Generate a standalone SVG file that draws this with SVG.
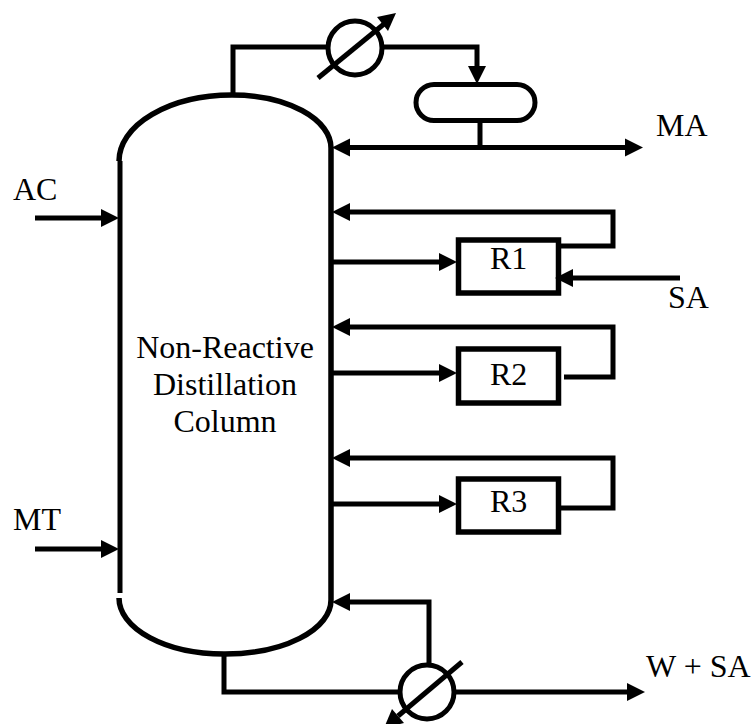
<svg xmlns="http://www.w3.org/2000/svg" width="755" height="724" viewBox="0 0 755 724">
<style>
.l{fill:none;stroke:#000;stroke-width:5}
.c{fill:none;stroke:#000;stroke-width:5.5}
.t{font-family:"Liberation Serif","Times New Roman",serif;font-size:32px;fill:#000}
.a{fill:#000;stroke:none}
</style>
<defs>
<polygon id="ar" class="a" points="0,0 -18,-9 -18,9"/>
</defs>
<rect width="755" height="724" fill="#fff"/>
<g id="connectors" class="l">
<path d="M233 96V47H328"/><path d="M384 47H477V70"/>
<path d="M480 120V147"/>
<path d="M345 147.500H628"/>
<path d="M35 218H104"/><path d="M35 549H104"/>
<path d="M345 212H613V246H556"/>
<path d="M331 262H441"/>
<path d="M680 278H570"/>
<path d="M345 327H613V377H564"/>
<path d="M331 373H441"/>
<path d="M345 458H613V508H556"/>
<path d="M331 504H441"/>
<path d="M345 602H429V666"/>
<path d="M224 654V692H400"/>
<path d="M455 692H630"/>
<use href="#ar" transform="translate(332,147.500) rotate(180)"/>
<use href="#ar" transform="translate(643,147.500)"/>
<use href="#ar" transform="translate(119,218)"/>
<use href="#ar" transform="translate(119,549)"/>
<use href="#ar" transform="translate(332,212) rotate(180)"/>
<use href="#ar" transform="translate(457,262)"/>
<use href="#ar" transform="translate(555,278) rotate(180)"/>
<use href="#ar" transform="translate(332,327) rotate(180)"/>
<use href="#ar" transform="translate(457,373)"/>
<use href="#ar" transform="translate(332,458) rotate(180)"/>
<use href="#ar" transform="translate(457,504)"/>
<use href="#ar" transform="translate(332,602) rotate(180)"/>
<use href="#ar" transform="translate(645,692)"/>
<use href="#ar" transform="translate(477,84) rotate(90)"/>
</g>
<g id="column">
<path class="c" d="M119 161A113 66 0 0 1 232 95A99 53 0 0 1 331 148V600A106 54 0 0 1 224 654A105 56 0 0 1 119 598"/>
<path class="l" d="M120 161V593"/>
<text class="t" x="225" y="358" text-anchor="middle">Non-Reactive</text>
<text class="t" x="225" y="395" text-anchor="middle">Distillation</text>
<text class="t" x="225" y="432" text-anchor="middle">Column</text>
</g>
<g id="condenser">
<circle class="l" cx="355" cy="48" r="27"/>
<path class="l" d="M318 78L384 24"/>
<polygon class="a" points="396,13 388,31 377,17"/>
</g>
<g id="drum"><rect class="l" x="416" y="84.500" width="119" height="36" rx="18"/></g>
<g id="r1"><rect class="c" x="458.500" y="240" width="100" height="53"/><text class="t" x="490" y="269">R1</text></g>
<g id="r2"><rect class="c" x="458.500" y="349" width="100" height="54"/><text class="t" x="490" y="385">R2</text></g>
<g id="r3"><rect class="c" x="458.500" y="479" width="100" height="53"/><text class="t" x="490" y="512">R3</text></g>
<g id="reboiler">
<circle class="l" cx="427" cy="692" r="27"/>
<path class="l" d="M462 662L398 716"/>
<polygon class="a" points="384,728 392,709 404,723"/>
</g>
<g id="labels">
<text class="t" x="656" y="136">MA</text>
<text class="t" x="13" y="200">AC</text>
<text class="t" x="13" y="530">MT</text>
<text class="t" x="668" y="308">SA</text>
<text class="t" x="646" y="677">W + SA</text>
</g>
</svg>
